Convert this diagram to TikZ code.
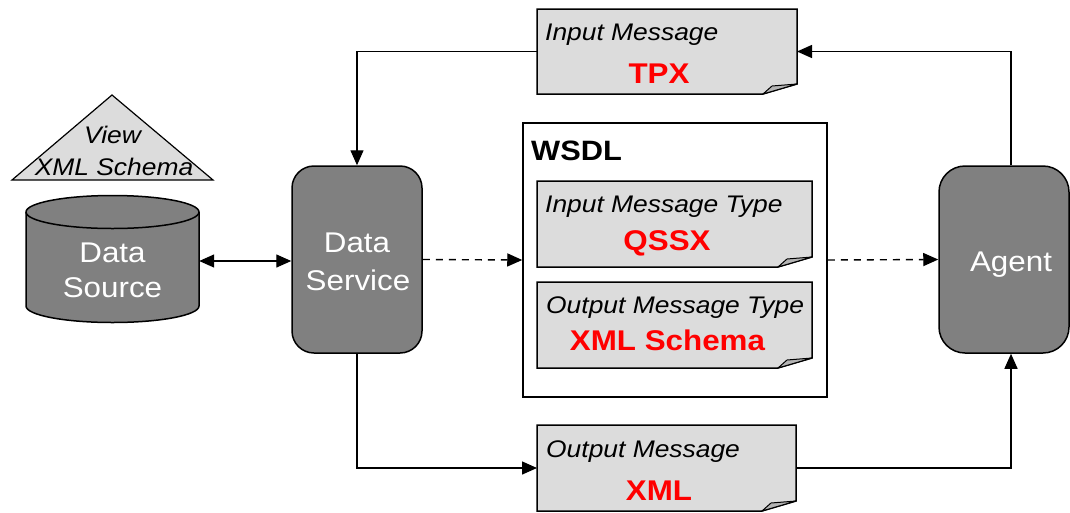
\documentclass[tikz,border=0pt]{standalone}
\usepackage{fontspec}
\setmainfont{Liberation Sans}
\usepackage{graphicx}
\usetikzlibrary{arrows.meta}
\pgfdeclarelayer{bg}
\pgfsetlayers{bg,main}
\definecolor{docfill}{HTML}{DCDCDC}
\definecolor{foldfill}{HTML}{B4B4B4}
\definecolor{boxfill}{HTML}{808080}
\definecolor{msgred}{HTML}{FF0000}
\newcommand\sx[1]{\scalebox{1.1}[1]{#1}}
\newcommand\mydoc[1]{%
  \draw[line width=1.5pt, fill=docfill] (#1.north west) -- (#1.north east) -- ([yshift=10pt]#1.south east) -- ([xshift=-34pt]#1.south east) -- (#1.south west) -- cycle;
  \draw[line width=1pt, fill=foldfill, line join=round] ([xshift=-34pt]#1.south east) -- ([xshift=-25pt,yshift=8pt]#1.south east) -- ([yshift=10pt]#1.south east) -- cycle;}
\begin{document}
\begin{tikzpicture}[x=1pt,y=1pt,
  docbox/.style={inner sep=0pt, outer sep=0pt, draw=none},
  lbl/.style={inner sep=0pt, anchor=base west, font=\fontsize{24}{26}\selectfont\itshape},
  clbl/.style={inner sep=0pt, anchor=base, font=\fontsize{24}{26}\selectfont\itshape},
  redlbl/.style={inner sep=0pt, anchor=base, text=msgred, font=\fontsize{28.5}{30}\selectfont\bfseries},
  whitelbl/.style={inner sep=0pt, anchor=base, text=white, font=\fontsize{28.5}{30}\selectfont},
  darkbox/.style={draw, line width=1.5pt, fill=boxfill, rounded corners=22pt, inner sep=0pt, minimum width=130pt, minimum height=187pt},
  conn/.style={line width=1.4pt, -{Triangle[length=15pt,width=13pt]}},
  dconn/.style={conn, dash pattern=on 7pt off 6pt},
  dbl/.style={line width=1.4pt, {Triangle[length=15pt,width=13pt]}-{Triangle[length=15pt,width=13pt]}}
]
\useasboundingbox (0,0) rectangle (1070,-512);

% message documents
\node[docbox, minimum width=260pt, minimum height=85pt] (inmsg) at (667,-51.5) {};
\node[docbox, minimum width=275pt, minimum height=86pt] (imt) at (674.5,-224) {};
\node[docbox, minimum width=275pt, minimum height=86pt] (omt) at (674.5,-325) {};
\node[docbox, minimum width=259pt, minimum height=86pt] (outmsg) at (666.5,-468) {};

% WSDL container
\node[draw, line width=1.5pt, inner sep=0pt, minimum width=304pt, minimum height=274pt] (wsdl) at (675,-260) {};

% dark boxes
\node[darkbox] (ds) at (357,-259.5) {};
\node[darkbox, rounded corners=26pt] (agent) at (1004,-259.5) {};

% cylinder placeholder
\node[inner sep=0pt, minimum width=173pt, minimum height=124pt] (cyl) at (112.5,-261) {};

\begin{pgfonlayer}{bg}
  \mydoc{inmsg}
  \mydoc{imt}
  \mydoc{omt}
  \mydoc{outmsg}
  \draw[line width=1.2pt, fill=docfill] (112,-95) -- (213,-180) -- (12,-180) -- cycle;
  \draw[line width=1.5pt, fill=boxfill] (26,-212) -- (26,-306) arc[start angle=180,end angle=360,x radius=86.5pt,y radius=16.5pt] -- (199,-212) arc[start angle=0,end angle=180,x radius=86.5pt,y radius=16.5pt] -- cycle;
  \draw[line width=1.5pt] (26,-212) arc[start angle=180,end angle=360,x radius=86.5pt,y radius=16.5pt];
\end{pgfonlayer}

% texts
\node[clbl] (view1) at (112.5,-143) {\sx{View}};
\node[clbl] (view2) at (114,-175) {\sx{XML Schema}};
\node[whitelbl] (cyl1) at (112.5,-262) {\sx{Data}};
\node[whitelbl] (cyl2) at (112.5,-297) {\sx{Source}};
\node[whitelbl] (ds1) at (357,-252) {\sx{Data}};
\node[whitelbl] (ds2) at (358,-290) {\sx{Service}};
\node[whitelbl] (ag1) at (1011,-271) {\sx{Agent}};
\node[inner sep=0pt, anchor=base west, font=\fontsize{28}{30}\selectfont\bfseries] (wsdlt) at (531,-160) {\sx{WSDL}};
\node[lbl] (inmsg1) at (545,-40) {\sx{Input Message}};
\node[redlbl] (inmsg2) at (659,-83) {\sx{TPX}};
\node[lbl] (imt1) at (545,-212) {\sx{Input Message Type}};
\node[redlbl] (imt2) at (667,-250) {\sx{QSSX}};
\node[lbl] (omt1) at (546,-313) {\sx{Output Message Type}};
\node[redlbl] (omt2) at (667.5,-350) {\sx{XML Schema}};
\node[lbl] (outmsg1) at (546,-457) {\sx{Output Message}};
\node[redlbl] (outmsg2) at (659,-500) {\sx{XML}};

% connectors
\draw[dbl] (cyl.east) -- (cyl.east -| ds.west);
\draw[conn] (inmsg.west) -| (ds.north);
\draw[conn] ([xshift=7pt]agent.north) |- (inmsg.east);
\draw[dconn] (ds.east) -- (wsdl.west);
\draw[dconn] (wsdl.east) -- (agent.west);
\draw[conn] (ds.south) |- (outmsg.west);
\draw[conn] (outmsg.east) -| ([xshift=7pt]agent.south);
\end{tikzpicture}
\end{document}
